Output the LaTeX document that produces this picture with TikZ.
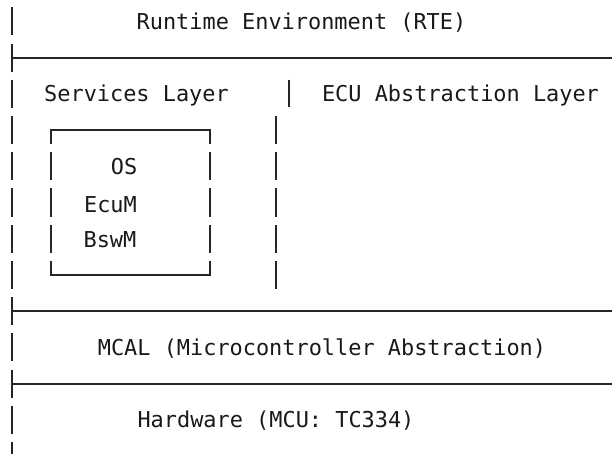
\documentclass[tikz,border=0pt]{standalone}
\usepackage{fontspec}
\setmonofont{DejaVu Sans Mono}
\usetikzlibrary{positioning}

\begin{document}
\begin{tikzpicture}[
  x=1pt, y=-1pt,
  font=\ttfamily\fontsize{21.9}{26}\selectfont,
  label/.style={inner sep=0pt, anchor=base, text=black!90},
  rule/.style={draw=black!85, line width=2pt},
  bar/.style={draw=black!85, line width=2pt},
]
\useasboundingbox (0,0) rectangle (612,454);

% ---- left edge: one short bar per text row, rows 36.2 apart ---------------
\foreach \r in {0,...,12}
  \draw[bar] (12,{21.5+36.2*\r-14}) -- (12,{21.5+36.2*\r+14});

% ---- full-width rules between the layers ----------------------------------
\foreach \r in {1,8,10}
  \draw[rule] (12,{21.5+36.2*\r}) -- (612,{21.5+36.2*\r});

% ---- column split under the RTE row ---------------------------------------
\draw[bar] (289,80) -- (289,107);
\foreach \r in {3,...,7}
  \draw[bar] (275.5,{21.5+36.2*\r-14}) -- (275.5,{21.5+36.2*\r+14});

% ---- the inner module box -------------------------------------------------
\draw[rule] (51,144) -- (51,130.1) -- (210,130.1) -- (210,144);
\draw[rule] (51,261) -- (51,274.9) -- (210,274.9) -- (210,261);
\foreach \r in {4,5,6} {
  \draw[bar] (51,{21.5+36.2*\r-14}) -- (51,{21.5+36.2*\r+14});
  \draw[bar] (210,{21.5+36.2*\r-14}) -- (210,{21.5+36.2*\r+14});
}

% ---- texts ----------------------------------------------------------------
\node[label] (rte)  at (301.5,30)  {Runtime Environment (RTE)};
\node[label] (svc)  at (136.5,102) {Services Layer};
\node[label] (ecua) at (460.5,102) {ECU Abstraction Layer};
\node[label] (os)   at (124,175)   {OS};
\node[label] (ecum) at (110.5,212) {EcuM};
\node[label] (bswm) at (110,247)   {BswM};
\node[label] (mcal) at (322,355)   {MCAL (Microcontroller Abstraction)};
\node[label] (hw)   at (276,427)   {Hardware (MCU: TC334)};

\end{tikzpicture}
\end{document}
